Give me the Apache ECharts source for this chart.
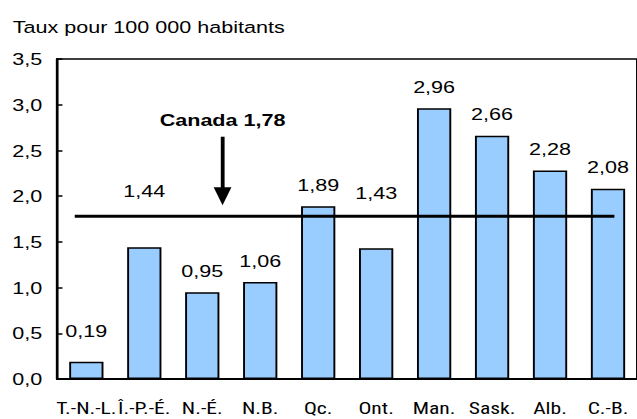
<!DOCTYPE html>
<html>
<head>
<meta charset="utf-8">
<script src="https://cdn.jsdelivr.net/npm/echarts@6/dist/echarts.min.js"></script>
<style>
  html, body { margin: 0; padding: 0; background: #fff; overflow: hidden; }
  /* the reference is a horizontally stretched picture: draw narrower, then stretch */
  #chart { width: 502px; height: 419px; transform: scaleX(1.2689); transform-origin: 0 0; }
</style>
</head>
<body>
<div id="chart"></div>
<script>
// data
const provinces = ['T.-N.-L.', 'Î.-P.-É.', 'N.-É.', 'N.B.', 'Qc.', 'Ont.', 'Man.', 'Sask.', 'Alb.', 'C.-B.'];
const rates = [0.19, 1.44, 0.95, 1.06, 1.89, 1.43, 2.96, 2.66, 2.28, 2.08];
const canadaRate = 1.78;
const canadaSpan = [0.3, 9.61];     // where the Canada line starts / ends, in category units
const arrowAt = 2.85;               // arrow position, in category units
const arrowFrom = 2.65;
const arrowTo = 2.0;
const yTicks = [0, 0.5, 1, 1.5, 2, 2.5, 3, 3.5];

const fr = (v, d) => v.toFixed(d).replace('.', ',');
const font = 'Liberation Sans';

// labels that were lifted clear of the Canada line
const lift = { 0: 9, 1: 35, 5: 34 };

const chart = echarts.init(document.getElementById('chart'), null, { renderer: 'svg' });
const option = {
    animation: false,
    title: {
        text: 'Taux pour 100 000 habitants',
        left: 5,
        top: 13,
        textStyle: { fontFamily: font, fontSize: 17, fontWeight: 'normal', color: '#000' }
    },
    grid: {
        left: 45.2, right: -10, top: 59, bottom: 40,
        show: true, borderColor: '#000', borderWidth: 1.5
    },
    xAxis: [
        {
            type: 'category',
            data: provinces,
            axisLine: { lineStyle: { color: '#000', width: 2 } },
            axisTick: { show: false },
            axisLabel: {
                color: '#000', fontFamily: "'Roboto Condensed', 'Open Sans Condensed', sans-serif",
                fontSize: 17, margin: 21, interval: 0
            }
        },
        { type: 'value', min: 0, max: provinces.length, show: false }
    ],
    yAxis: {
        type: 'value',
        min: yTicks[0],
        max: yTicks[yTicks.length - 1],
        interval: 0.5,
        axisLine: { show: true, lineStyle: { color: '#000', width: 2 } },
        axisTick: { show: true, inside: true, length: 4, lineStyle: { color: '#000', width: 1.5 } },
        splitLine: { show: false },
        axisLabel: {
            color: '#000', fontFamily: font, fontSize: 17, margin: 12,
            formatter: v => fr(v, 1)
        }
    },
    series: [
        {
            type: 'bar',
            data: rates.map((v, i) => ({
                value: v,
                label: { distance: 13 + (lift[i] || 0) }
            })),
            barWidth: 27,
            itemStyle: { color: '#99CCFF', borderColor: '#000', borderWidth: 1.5 },
            label: {
                show: true, position: 'top', color: '#000',
                fontFamily: font, fontSize: 17,
                formatter: p => fr(p.value, 2)
            }
        },
        {
            type: 'line',
            xAxisIndex: 1,
            data: [[canadaSpan[0], canadaRate], [canadaSpan[1], canadaRate]],
            symbol: 'none',
            lineStyle: { color: '#000', width: 3 },
            z: 5,
            markLine: {
                silent: true,
                symbol: ['none', 'triangle'],
                symbolSize: [14, 18],
                lineStyle: { color: '#000', width: 3, type: 'solid' },
                label: {
                    show: true, position: 'start', distance: 8,
                    color: '#000', fontFamily: font, fontSize: 17, fontWeight: 'bold',
                    formatter: 'Canada ' + fr(canadaRate, 2)
                },
                data: [[
                    { coord: [arrowAt, arrowFrom] },
                    { coord: [arrowAt, arrowTo] }
                ]]
            }
        }
    ]
};
chart.setOption(option);
</script>
</body>
</html>
